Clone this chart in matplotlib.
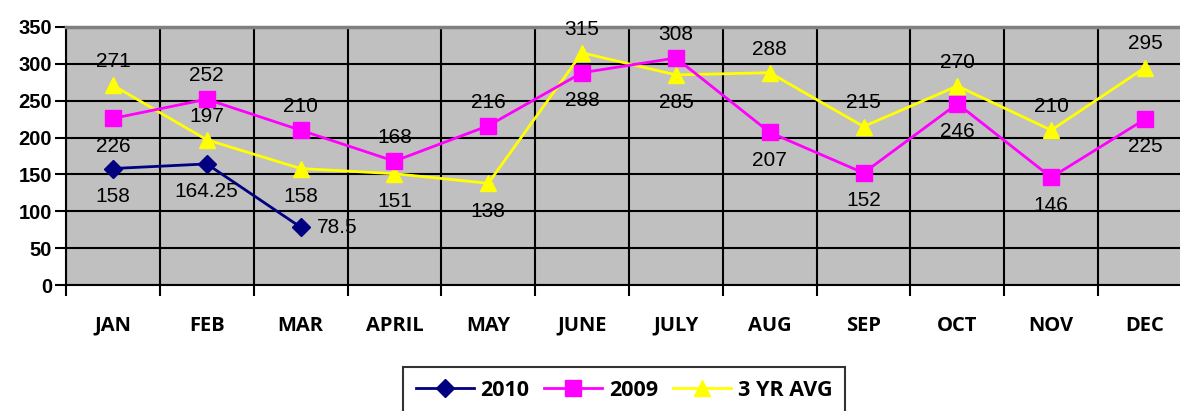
import matplotlib
matplotlib.use("Agg")
import matplotlib.pyplot as plt
import numpy as np

# ------------------------------------------------------
# data
# ------------------------------------------------------
months = ["JAN", "FEB", "MAR", "APRIL", "MAY", "JUNE",
          "JULY", "AUG", "SEP", "OCT", "NOV", "DEC"]
vals_2010 = [158, 164.25, 78.5]
vals_2009 = [226, 252, 210, 168, 216, 288, 308, 207, 152, 246, 146, 225]
vals_avg = [271, 197, 158, 151, 138, 315, 285, 288, 215, 270, 210, 295]

# label placement: a = above, b = below, r = right
pos_2010 = ["b", "b", "r"]
pos_2009 = ["b", "a", "a", "a", "a", "b", "a", "b", "b", "b", "b", "b"]
pos_avg = ["a", "a", "b", "b", "b", "a", "b", "a", "a", "a", "a", "a"]

plt.rcParams["font.family"] = ["Liberation Sans", "DejaVu Sans"]

fig = plt.figure(figsize=(11.8, 4.11), dpi=100)
ax = fig.add_axes([66 / 1180, 1 - 285 / 411, 1126 / 1180, 258 / 411])
ax.set_facecolor("#C0C0C0")

x = np.arange(len(months))

ax.plot(x[:len(vals_2010)], vals_2010, color="#000080", lw=2, marker="D",
        ms=9, label="2010", zorder=5, clip_on=False)
ax.plot(x, vals_2009, color="#FF00FF", lw=2, marker="s",
        ms=11, label="2009", zorder=4, clip_on=False)
ax.plot(x, vals_avg, color="#FFFF00", lw=2, marker="^",
        ms=12, label="3 YR AVG", zorder=3, clip_on=False)


def fmt(v):
    return f"{v:g}"


def put_labels(vals, where):
    for i, (v, p) in enumerate(zip(vals, where)):
        if p == "a":
            off, ha = (0, 17), "center"
        elif p == "b":
            off, ha = (0, -20), "center"
        else:
            off, ha = (12, 0), "left"
        ax.annotate(fmt(v), (i, v), xytext=off, textcoords="offset points",
                    ha=ha, va="center", fontsize=15, zorder=6,
                    annotation_clip=False)


put_labels(vals_2010, pos_2010)
put_labels(vals_2009, pos_2009)
put_labels(vals_avg, pos_avg)

ax.set_xlim(-0.5, 11.5)
ax.set_ylim(0, 350)
ax.set_yticks(range(0, 351, 50))
ax.set_xticks(x)
ax.set_xticklabels(months, fontweight="bold", fontsize=14.5,
                   family=["Open Sans", "DejaVu Sans"])
ax.set_xticks(np.arange(-0.5, 12, 1), minor=True)
ax.tick_params(axis="x", which="major", length=0, pad=22)
ax.tick_params(axis="x", which="minor", length=8, width=1.5, direction="out")
ax.tick_params(axis="y", length=8, width=1.5, direction="out", labelsize=14.5, pad=2)
for t in ax.get_yticklabels():
    t.set_fontweight("bold")

ax.grid(True, which="major", axis="y", color="black", lw=1.5)
ax.grid(True, which="minor", axis="x", color="black", lw=1.5)
ax.set_axisbelow(True)

ax.spines["right"].set_visible(False)
ax.spines["top"].set_color("#808080")
ax.spines["top"].set_linewidth(2.5)
ax.spines["left"].set_linewidth(1.5)
ax.spines["bottom"].set_linewidth(1.5)

leg = fig.legend(loc="center", bbox_to_anchor=(624 / 1180, 1 - 390 / 411),
                 ncol=3, frameon=True, fancybox=False, edgecolor="black",
                 handlelength=2.7, columnspacing=0.7, handletextpad=0.3,
                 borderpad=0.6, prop={"weight": "bold", "size": 15.5,
                                      "family": ["Open Sans", "DejaVu Sans"]})
leg.get_frame().set_linewidth(1.5)

fig.savefig("out.png", dpi=100)
